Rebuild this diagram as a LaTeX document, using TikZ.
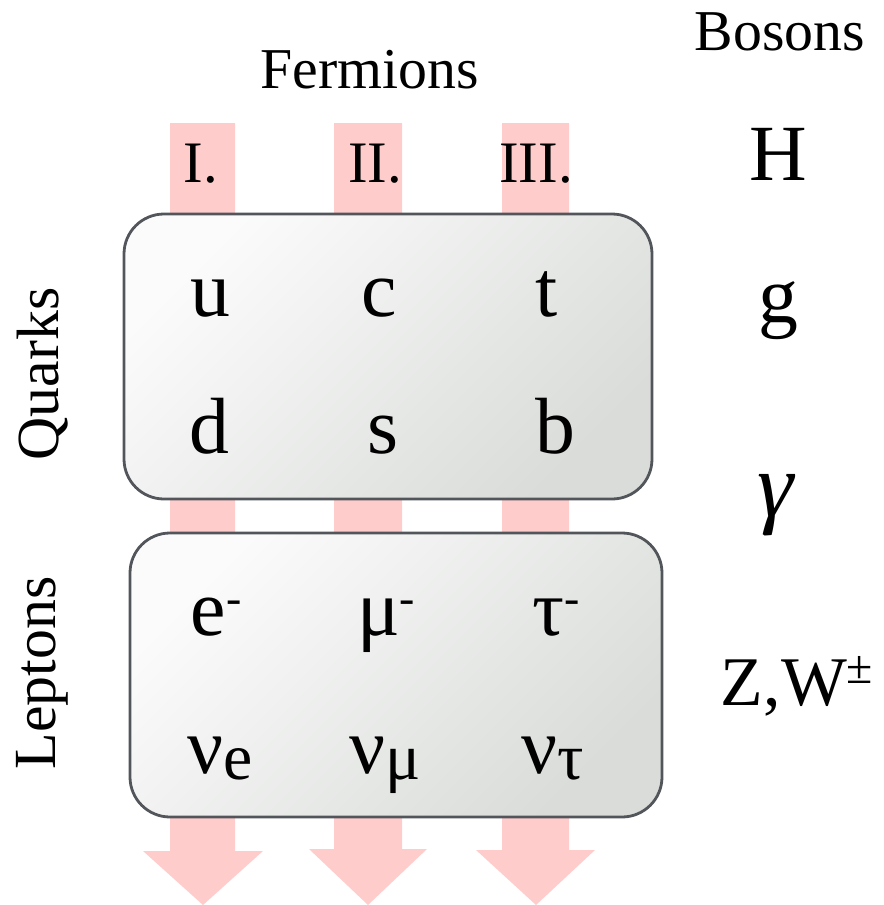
\documentclass[tikz,border=0pt]{standalone}
\usepackage{fontspec}
\setmainfont{Liberation Serif}
\definecolor{pinkarrow}{HTML}{FFCCCC}
\definecolor{boxedge}{HTML}{52565B}
\definecolor{boxlight}{HTML}{FBFBFB}
\definecolor{boxdark}{HTML}{D9DCD9}
\newcommand{\mysub}[1]{\raisebox{-6bp}{\fontsize{66}{66}\selectfont #1}}
\newcommand{\mysupm}{\raisebox{22bp}{\fontsize{46}{46}\selectfont -}}
\begin{document}
\begin{tikzpicture}[x=1bp,y=-1bp,
  arrowshape/.style={fill=pinkarrow,draw=none},
  famblock/.style={draw=boxedge,line width=2.8bp,rounded corners=40bp,
    top color=boxlight,bottom color=boxdark,shading angle=45},
  particle/.style={anchor=base,inner sep=0pt,font=\fontsize{80}{80}\selectfont},
  gen/.style={anchor=base,inner sep=0pt,font=\fontsize{59}{59}\selectfont},
  header/.style={anchor=base,inner sep=0pt,font=\fontsize{58}{58}\selectfont},
  sidelabel/.style={anchor=center,inner sep=0pt,rotate=90,font=\fontsize{60}{60}\selectfont},
  boson/.style={anchor=base,inner sep=0pt,font=\fontsize{80}{80}\selectfont}]
\useasboundingbox (0,0) rectangle (884,905);
% generation arrows
\fill[arrowshape] (170,123) -- (235,123) -- (235,851) -- (263,851) -- (203,905) -- (143,851) -- (170,851) -- cycle;
\fill[arrowshape] (334,123) -- (402,123) -- (402,849) -- (427,849) -- (368,905) -- (309,849) -- (334,849) -- cycle;
\fill[arrowshape] (502,123) -- (569,123) -- (569,850) -- (595,850) -- (536,905) -- (476,850) -- (502,850) -- cycle;
% family boxes
\path[famblock] (124,214) rectangle (652,499);
\path[famblock] (130,533) rectangle (662,817);
% headers
\node[header] (fermions) at (370,88) {Fermions};
\node[header] (bosons) at (780,50) {Bosons};
\node[gen] (g1) at (201,182) {I.};
\node[gen] (g2) at (375,182) {II.};
\node[gen] (g3) at (536,182) {III.};
% side labels
\node[sidelabel] (quarks) at (43,374) {Quarks};
\node[sidelabel] (leptons) at (42,673) {Leptons};
% quarks
\node[particle] (u) at (210,316) {u};
\node[particle] (c) at (379,316) {c};
\node[particle] (t) at (547,316) {t};
\node[particle] (d) at (209,453) {d};
\node[particle] (s) at (383,453) {s};
\node[particle] (b) at (555,453) {b};
% leptons
\node[particle] (e) at (216,635) {e\mysupm};
\node[particle] (mu) at (386,635) {μ\mysupm};
\node[particle] (tau) at (556,635) {τ\mysupm};
\node[particle] (nue) at (220,773) {ν\mysub{e}};
\node[particle] (numu) at (385,773) {ν\mysub{μ}};
\node[particle] (nutau) at (553,773) {ν\mysub{τ}};
% bosons
\node[boson] (H) at (778,180) {H};
\node[boson] (gl) at (778,322) {g};
\node[boson,font=\fontsize{92}{92}\selectfont\itshape] (gamma) at (776,516) {γ};
\node[boson,font=\fontsize{70}{70}\selectfont] (ZW) at (797,705) {Z,W\raisebox{22bp}{\fontsize{48}{48}\selectfont ±}};
\end{tikzpicture}
\end{document}
